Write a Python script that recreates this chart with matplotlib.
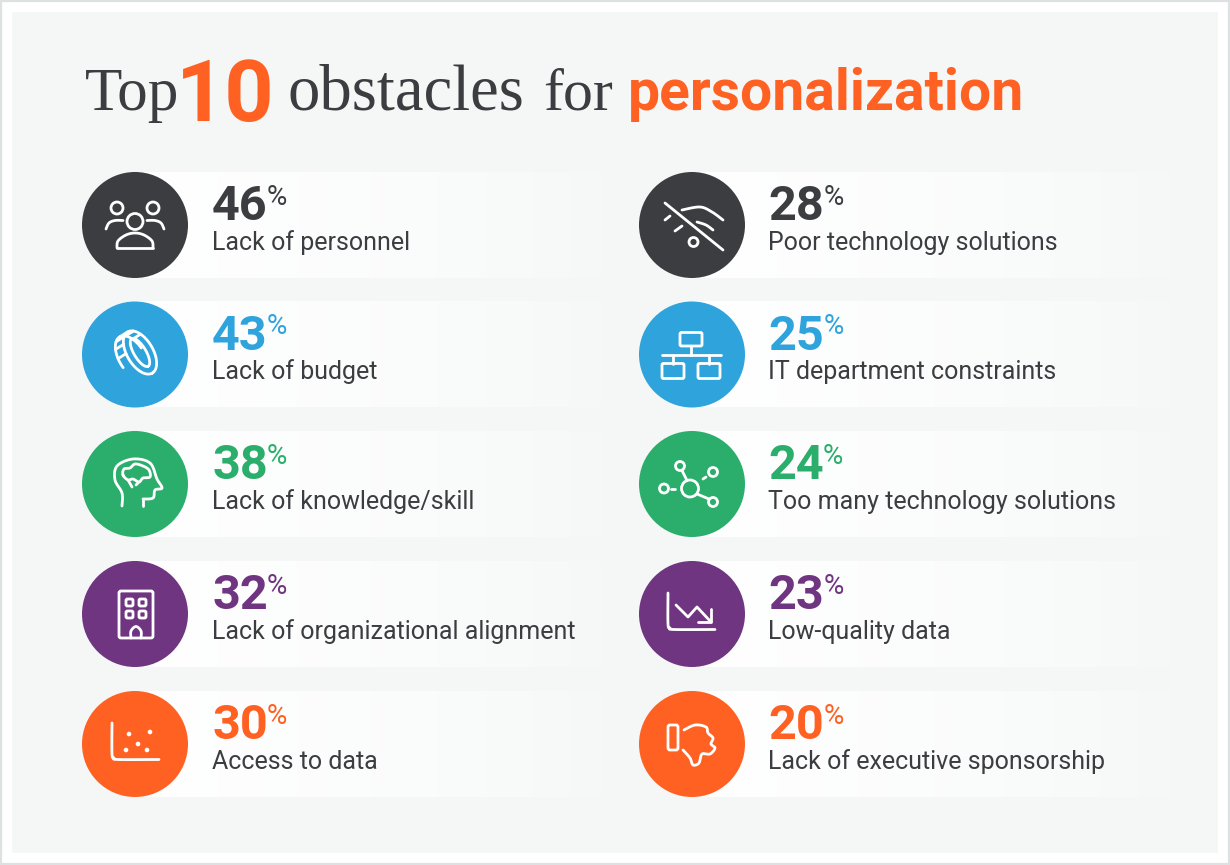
import numpy as np
import matplotlib
matplotlib.use("Agg")
import matplotlib.pyplot as plt
from matplotlib.patches import Circle, Rectangle, FancyBboxPatch

# values
left_values = [46, 43, 38, 32, 30]
left_labels = ["Lack of personnel", "Lack of budget", "Lack of knowledge/skill",
               "Lack of organizational alignment", "Access to data"]
right_values = [28, 25, 24, 23, 20]
right_labels = ["Poor technology solutions", "IT department constraints",
                "Too many technology solutions", "Low-quality data",
                "Lack of executive sponsorship"]
row_colors = ["#3c3d40", "#2fa3dc", "#2bae6c", "#6f3580", "#ff6123"]

BG = "#f5f7f7"
DARK = "#3c3d40"
ORANGE = "#ff6123"
LW = 2.0

fig = plt.figure(figsize=(12.3, 8.65), dpi=100, facecolor="white")
ax = fig.add_axes([0, 0, 1, 1])
ax.set_axis_off()


def line(x, y, cx, cy, lw=LW):
    ax.plot(cx + np.asarray(x, float), cy + np.asarray(y, float), color="white",
            lw=lw, solid_capstyle="round", solid_joinstyle="round", zorder=5)


def smooth(pts, closed=False, n=12):
    # catmull-rom through the given points
    p = np.asarray(pts, float)
    if closed:
        p = np.vstack([p[-1], p, p[0], p[1]])
    else:
        p = np.vstack([p[0], p, p[-1]])
    out = []
    t = np.linspace(0, 1, n)[:, None]
    for i in range(1, len(p) - 2):
        a, b, c, d = p[i - 1], p[i], p[i + 1], p[i + 2]
        out.append(0.5 * (2 * b + (c - a) * t + (2 * a - 5 * b + 4 * c - d) * t ** 2
                          + (3 * b - a - 3 * c + d) * t ** 3))
    return np.vstack(out)


def sline(pts, cx, cy, closed=False, lw=LW):
    s = smooth(pts, closed)
    line(s[:, 0], s[:, 1], cx, cy, lw)


def ring(x, y, r, cx, cy, lw=LW):
    ax.add_patch(Circle((cx + x, cy + y), r, fill=False, ec="white", lw=lw, zorder=5))


def box(x0, y0, x1, y1, cx, cy, rad=1.5, lw=LW):
    ax.add_patch(FancyBboxPatch((cx + x0, cy + y0), x1 - x0, y1 - y0,
                                boxstyle=f"round,pad=0,rounding_size={rad}",
                                fill=False, ec="white", lw=lw, zorder=5))


def ell(x, y, a, b, deg, t0, t1, n=60):
    t = np.radians(np.linspace(t0, t1, n))
    r = np.radians(deg)
    ex, ey = a * np.cos(t), b * np.sin(t)
    return x + ex * np.cos(r) - ey * np.sin(r), y + ex * np.sin(r) + ey * np.cos(r)


def icon_people(cx, cy):
    ring(0, -3.5, 8, cx, cy)
    ring(-18, -17, 6, cx, cy)
    ring(18, -17, 6, cx, cy)
    sline([(-18, 23), (-17, 16), (-9, 10), (0, 8), (9, 10), (17, 16), (18, 23)], cx, cy)
    line([-18, 18], [23, 23], cx, cy)
    sline([(-29, 4), (-26, -2), (-20, -4.5), (-12, -4.5)], cx, cy)
    sline([(29, 4), (26, -2), (20, -4.5), (12, -4.5)], cx, cy)


def icon_coin(cx, cy):
    ang = 59
    for a, b in [(24, 13), (16, 6)]:
        x, y = ell(5, -2, a, b, ang, 0, 360)
        line(x, y, cx, cy)
    # back rim and the teeth joining it to the face
    x, y = ell(-3, 3, 24, 13, ang, 80, 262)
    line(x, y, cx, cy)
    for t in [105, 130, 155, 180, 205, 230]:
        x0, y0 = ell(5, -2, 24, 13, ang, t, t, 1)
        x1, y1 = ell(-3, 3, 24, 13, ang, t, t, 1)
        line([x0[0], x1[0]], [y0[0], y1[0]], cx, cy)


def icon_head(cx, cy):
    sline([(-13, 22), (-13, 9), (-20, -4), (-18, -18), (-2, -25), (15, -21),
           (22, -5), (27, 4), (20, 6), (18, 14), (8, 15)], cx, cy)
    line([8, 8], [15, 22], cx, cy)
    sline([(-12, -9), (-11, -15), (-5, -16), (0, -20), (8, -18), (14, -14), (15, -7),
           (8, -6), (4, -2), (-2, -5), (-7, -4)], cx, cy, closed=True)
    line([-7, -3], [-4, 3], cx, cy)
    line([4, 1], [-2, 1], cx, cy)


def icon_building(cx, cy):
    box(-16, -23, 18, 24, cx, cy, 2)
    for wx in [-9, 4]:
        for wy in [-15, -3]:
            box(wx, wy, wx + 7, wy + 7, cx, cy, 1.5)
    sline([(-4, 24), (-4, 17), (1, 12.5), (6, 17), (6, 24)], cx, cy)


def icon_scatter(cx, cy):
    sline([(-23, -21), (-23, 10), (-21, 14), (-17, 15.5), (24, 15.5)], cx, cy)
    for dx, dy in [(-6, -10), (15, -12), (3, 0), (-9, 6), (12, 6)]:
        ax.add_patch(Circle((cx + dx, cy + dy), 2.3, fc="white", ec="none", zorder=5))


def icon_nowifi(cx, cy):
    line([-27, 31], [-22, 25], cx, cy)
    sline([(-10, -15), (8, -18), (20, -13), (31, -5)], cx, cy)
    sline([(5, -3), (14, 0), (21, 5)], cx, cy)
    line([-27, -22], [-5, -9], cx, cy)
    line([-17, -10], [6, 1], cx, cy)
    ring(1.5, 17, 4.5, cx, cy)


def icon_network(cx, cy):
    box(-12, -22, 10, -8.5, cx, cy, 1.5)
    line([-1, -1], [-8.5, 0], cx, cy)
    line([-30, 29], [0, 0], cx, cy)
    line([-19, -19], [0, 9], cx, cy)
    line([17, 17], [0, 9], cx, cy)
    box(-30, 9, -8, 24, cx, cy, 1.5)
    box(6, 9, 28, 24, cx, cy, 1.5)


def icon_nodes(cx, cy):
    ring(-2, 4.5, 8.5, cx, cy)
    ring(-12, -18, 4.5, cx, cy)
    ring(21, -12, 4.5, cx, cy)
    ring(-28, 4.5, 4.5, cx, cy)
    ring(21, 18, 4.5, cx, cy)
    line([-10, -5], [-13.5, -3.5], cx, cy)
    line([11, 14], [-5, -7], cx, cy)
    line([-21, -17], [4.5, 4.5], cx, cy)
    line([5, 17], [10, 15], cx, cy)


def icon_decline(cx, cy):
    sline([(-24, -21), (-24, 10), (-22, 14), (-18, 15.5), (23, 15.5)], cx, cy)
    line([-16, -4, 5, 19], [-9, 3, -7, 8], cx, cy)
    line([19, 19, 6], [-5, 8, 8], cx, cy)


def icon_thumb(cx, cy):
    box(-24, -19, -14, 6, cx, cy, 2)
    sline([(-8, -14), (3, -19), (14, -17), (16, -11), (21, -6), (19, 0), (23, 4),
           (18, 10), (10, 10), (7, 19), (1, 21), (-2, 14), (-9, 6)], cx, cy)


left_icons = [icon_people, icon_coin, icon_head, icon_building, icon_scatter]
right_icons = [icon_nowifi, icon_network, icon_nodes, icon_decline, icon_thumb]

# frame and panel
ax.add_patch(Rectangle((1, 1), 1228, 863, fc="white", ec="#dde1e1", lw=1.6, zorder=0))
ax.add_patch(Rectangle((12, 12), 1206, 841, fc=BG, ec="none", zorder=1))

# title
ax.text(85, 110, "Top", family="Liberation Serif", fontsize=44, color=DARK, zorder=6)
ax.text(176, 121, "10", family="Roboto", weight="bold", fontsize=62, color=ORANGE, zorder=6)
ax.text(287, 110, "obstacles", family="Liberation Serif", fontsize=46.5, color=DARK, zorder=6)
ax.text(543, 110, "for", family="Liberation Serif", fontsize=43, color=DARK, zorder=6)
ax.text(628, 110, "personalization", family="Roboto", weight="bold", fontsize=41, color=ORANGE, zorder=6)

# white strips fading into the panel
fade = np.ones((1, 256, 4))
fade[0, :, 3] = np.linspace(1, 0, 256) ** 0.7

row_y = [225, 354.5, 484, 614, 744]
renderer = fig.canvas.get_renderer()


def draw_column(values, labels, icons, cx, text_x, strip_end):
    for i in range(len(values)):
        cy = row_y[i]
        color = row_colors[i]
        ax.imshow(fade, extent=(cx, strip_end, cy + 53, cy - 53), aspect="auto", zorder=2)
        ax.add_patch(Circle((cx, cy), 53, fc=color, ec="none", zorder=4))
        icons[i](cx, cy)
        t = ax.text(text_x, cy - 5, str(values[i]), family="Roboto", weight="bold",
                    fontsize=35, color=color, zorder=6)
        w = t.get_window_extent(renderer).width
        ax.text(text_x + w - 1, cy - 20, "%", family="Roboto", fontsize=20,
                color=color, zorder=6)
        ax.text(text_x, cy + 25, labels[i], family="Roboto", fontsize=18,
                color=DARK, zorder=6)


draw_column(left_values, left_labels, left_icons, 135, 212, 620)
draw_column(right_values, right_labels, right_icons, 692, 768.5, 1190)

ax.set_xlim(0, 1230)
ax.set_ylim(865, 0)
fig.savefig("out.png", dpi=100, facecolor="white")
